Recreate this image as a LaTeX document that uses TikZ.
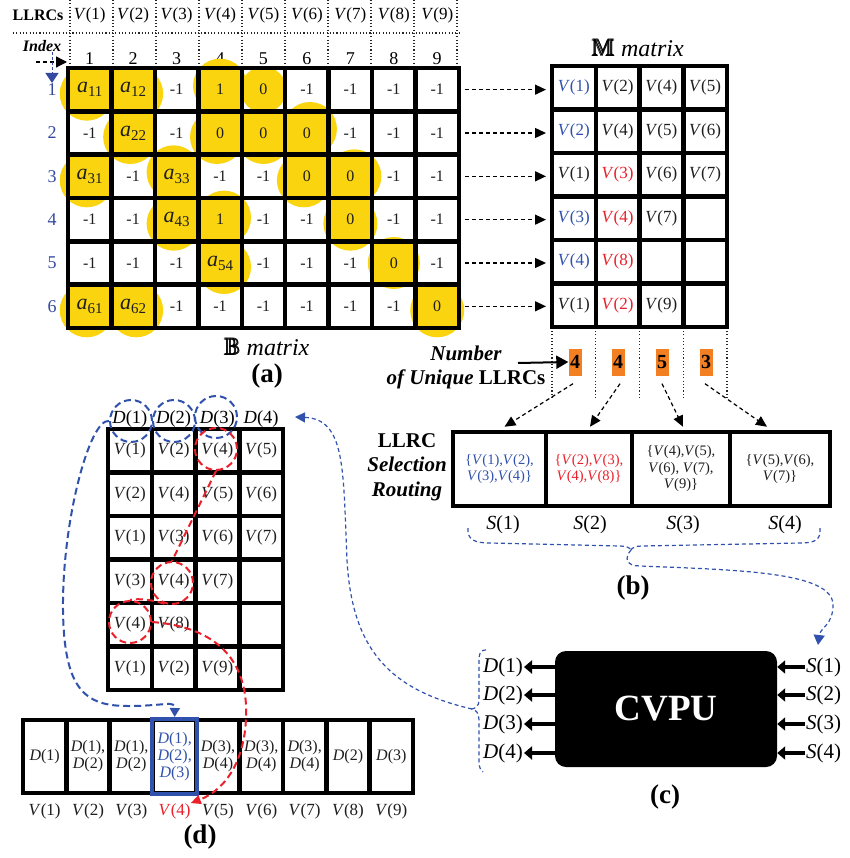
\documentclass[tikz,border=0pt]{standalone}
\usepackage{amsmath}
\usepackage{amssymb}
\usepackage{fontspec}
\setmainfont{Liberation Serif}
\usetikzlibrary{arrows.meta,calc}

\definecolor{cellyellow}{RGB}{250,212,15}
\definecolor{badgeorange}{RGB}{242,128,34}
\definecolor{idxblue}{RGB}{52,74,160}
\definecolor{routeblue}{RGB}{48,82,172}
\definecolor{hitred}{RGB}{234,32,42}
\definecolor{inkblack}{RGB}{30,30,30}

\newcommand{\fsz}[2]{\fontsize{#1}{#2}\selectfont}
\newcommand{\Vv}[1]{\textit{V}(#1)}
\newcommand{\Dv}[1]{\textit{D}(#1)}
\newcommand{\Sv}[1]{\textit{S}(#1)}
\newcommand{\aent}[1]{{\fsz{22}{22}\textit{a}}\raisebox{-4pt}{\fsz{15}{15}#1}}

\tikzset{
  grid line/.style={line width=4.5pt, line cap=rect},
  hdr dots/.style={line width=1.1pt, dash pattern=on 1.1pt off 2.2pt, black!85},
  row arrow/.style={line width=1.3pt, dash pattern=on 4pt off 3pt, -{Triangle[length=11pt,width=10pt]}},
  thin route/.style={routeblue, line width=1.2pt, dash pattern=on 4pt off 3pt},
  thick route/.style={routeblue, line width=2pt, dash pattern=on 7pt off 4pt},
  blue ring/.style={draw=routeblue, line width=2pt, dash pattern=on 7pt off 4pt, circle, minimum size=42pt, inner sep=0pt},
  red ring/.style={draw=hitred, line width=2pt, dash pattern=on 7pt off 4pt, circle, minimum size=42pt, inner sep=0pt},
  red route/.style={hitred, line width=2pt, dash pattern=on 7pt off 4pt},
  btxt/.style={font=\fsz{16}{18}, inner sep=0pt, text=inkblack},
  vtxt/.style={font=\fsz{17}{19}, inner sep=0pt},
  io arrow/.style={line width=4pt, -{Triangle[length=8pt,width=13pt]}},
  badge/.style={fill=badgeorange, minimum width=13pt, minimum height=27pt, inner sep=0pt, font=\fsz{20}{22}\bfseries},
  cap label/.style={font=\fsz{27}{30}\bfseries},
  sbox/.style={draw, line width=4.5pt, minimum height=74pt, inner sep=0pt, align=center, font=\fsz{14.5}{16.5}},
  ecell/.style={minimum width=43pt, minimum height=73pt, inner sep=0pt, align=center, font=\fsz{16}{17}},
}

\begin{document}
\begin{tikzpicture}[x=1pt,y=-1pt]
\path[use as bounding box, fill=white] (0,0) rectangle (849,858);

% ---------------- header: LLRC names and column indices ----------------
\node[font=\fsz{16}{18}\bfseries] (llrcs) at (38,15) {LLRCs};
\foreach \c in {1,...,9}
  \node[vtxt] (hv-\c) at ({68+(\c-0.5)*43.44},15) {\Vv{\c}};
\foreach \k in {0,...,9}
  \draw[hdr dots] ({70+\k*43},0) -- ({70+\k*43},64);
\draw[hdr dots] (13,33) -- (459,33);
\node[font=\fsz{16}{18}\bfseries\itshape] (idx) at (42,46) {Index};
\foreach \c in {1,...,9}
  \node[font=\fsz{18}{20}] (cn-\c) at ({68+(\c-0.5)*43.44},59) {\c};
\coordinate (idx-a) at (36,62);
\coordinate (idx-b) at (67,62);
\draw[line width=1.3pt, dash pattern=on 4pt off 3pt, -{Triangle[length=11pt,width=11pt]}] (idx-a) -- (idx-b);
\coordinate (idx-c) at (52,52);
\coordinate (idx-d) at (52,83);
\draw[idxblue, line width=1pt, dash pattern=on 3pt off 2pt, -{Triangle[length=10pt,width=13pt]}] (idx-c) -- (idx-d);
\foreach \r in {1,...,6}
  \node[font=\fsz{18}{20}, text=idxblue] (rn-\r) at (52,{68+(\r-0.5)*43.33}) {\r};

% ---------------- B matrix ----------------
\foreach \r/\c/\dx/\dy/\rad/\sq in {
  1/1/-3/4/27/1, 1/2/3/4/27/1, 1/4/0/-4/27/1, 1/5/0/0/23/0,
  2/2/-3/4/27/1, 2/4/-3/4/27/1, 2/5/0/4/27/1, 2/6/3/-4/27/1,
  3/1/-3/4/27/1, 3/3/-3/-4/27/1, 3/6/-3/4/27/1, 3/7/4/0/27/1,
  4/3/-3/4/27/1, 4/4/4/-2/27/1, 4/7/0/4/27/1,
  5/4/4/4/27/1, 5/8/0/0/26/1,
  6/1/-3/4/27/1, 6/2/3/4/27/1, 6/9/0/4/27/1} {
  \pgfmathsetmacro\cx{68+(\c-0.5)*43.44}
  \pgfmathsetmacro\cy{68+(\r-0.5)*43.33}
  \fill[cellyellow] ({\cx+\dx},{\cy+\dy}) circle[radius=\rad pt];
  \ifnum\sq=1
    \fill[cellyellow] ({\cx-21.7},{\cy-21.7}) rectangle ({\cx+21.7},{\cy+21.7});
  \fi
}
\foreach \r/\row in {
  1/{\aent{11},\aent{12},-1,1,0,-1,-1,-1,-1},
  2/{-1,\aent{22},-1,0,0,0,-1,-1,-1},
  3/{\aent{31},-1,\aent{33},-1,-1,0,0,-1,-1},
  4/{-1,-1,\aent{43},1,-1,-1,0,-1,-1},
  5/{-1,-1,-1,\aent{54},-1,-1,-1,0,-1},
  6/{\aent{61},\aent{62},-1,-1,-1,-1,-1,-1,0}}
  \foreach \t [count=\c] in \row
    \node[btxt] (b-\r-\c) at ({68+(\c-0.5)*43.44},{68+(\r-0.5)*43.33}) {\t};
\foreach \k in {0,...,9}
  \draw[grid line] ({68+\k*43.44},68) -- ({68+\k*43.44},328);
\foreach \k in {0,...,6}
  \draw[grid line] (68,{68+\k*43.33}) -- (459,{68+\k*43.33});
\node[font=\fsz{24}{26}] (btitle) at (267,347) {$\pmb{\mathbb{B}}$ \textit{matrix}};
\node[cap label] (cap-a) at (267,376) {(a)};

% rows of B feed the rows of M
\foreach \r in {1,...,6} {
  \coordinate (bo-\r) at (465,{68+(\r-0.5)*43.33});
  \coordinate (mi-\r) at (546,{68+(\r-0.5)*43.33});
  \draw[row arrow] (bo-\r) -- (mi-\r);
}

% ---------------- M matrix ----------------
\node[font=\fsz{24}{26}] (mtitle) at (638,48) {$\pmb{\mathbb{M}}$ \textit{matrix}};
\foreach \r/\row in {
  1/{1/routeblue,2/inkblack,4/inkblack,5/inkblack},
  2/{2/routeblue,4/inkblack,5/inkblack,6/inkblack},
  3/{1/inkblack,3/hitred,6/inkblack,7/inkblack},
  4/{3/routeblue,4/hitred,7/inkblack},
  5/{4/routeblue,8/hitred},
  6/{1/inkblack,2/hitred,9/inkblack}}
  \foreach \v/\col [count=\c] in \row
    \node[vtxt, text=\col] (m-\r-\c) at ({552+(\c-0.5)*43.75},{66+(\r-0.5)*43.5}) {\Vv{\v}};
\foreach \k in {0,...,4}
  \draw[grid line] ({552+\k*43.75},66) -- ({552+\k*43.75},327);
\foreach \k in {0,...,6}
  \draw[grid line] (552,{66+\k*43.5}) -- (727,{66+\k*43.5});
\foreach \k in {0,...,4}
  \draw[hdr dots] ({552+\k*43.75},331) -- ({552+\k*43.75},400);

% ---------------- number of unique LLRCs ----------------
\foreach \k/\xx/\n in {1/575/4, 2/618/4, 3/662/5, 4/706/3}
  \node[badge] (bg-\k) at (\xx,362) {\n};
\node[font=\fsz{21}{24}\bfseries, align=center] (nul) at (466,367) {\textit{Number}\\\textit{of Unique} LLRCs};
\coordinate (nuarr) at (518,363);
\draw[line width=2pt, -{Triangle[length=12pt,width=13pt]}] (nuarr) -- (bg-1.west);

% ---------------- LLRC selection routing ----------------
\node[sbox, minimum width=93pt, text=routeblue] (s-1) at (499.5,469) {\{\Vv{1},\Vv{2},\\ \Vv{3},\Vv{4}\}};
\node[sbox, minimum width=86pt, text=hitred] (s-2) at (589,469) {\{\Vv{2},\Vv{3},\\ \Vv{4},\Vv{8}\}};
\node[sbox, minimum width=98pt, text=inkblack] (s-3) at (681,469) {\{\Vv{4},\Vv{5},\\ \Vv{6}, \Vv{7},\\ \Vv{9}\}};
\node[sbox, minimum width=100pt, text=inkblack] (s-4) at (780,469) {\{\Vv{5},\Vv{6},\\ \Vv{7}\}};
\node[font=\fsz{21}{24.5}\bfseries, align=center] (lsr) at (407,467) {LLRC\\\textit{Selection}\\\textit{Routing}};
\draw[row arrow, line width=1.2pt] ($(bg-1.south)+(-2,8)$) -- ($(s-1.north)+(5,-3)$);
\draw[row arrow, line width=1.2pt] ($(bg-2.south)+(2,8)$) -- ($(s-2.north)+(1,-3)$);
\draw[row arrow, line width=1.2pt] ($(bg-3.south)+(0,8)$) -- ($(s-3.north)+(2,-3)$);
\draw[row arrow, line width=1.2pt] ($(bg-4.south)+(-1,8)$) -- ($(s-4.north)+(-13,-3)$);
\foreach \k/\xx in {1/503, 2/590, 3/683, 4/785}
  \node[font=\fsz{20}{22}] (sl-\k) at (\xx,525) {\Sv{\k}};
\node[cap label] (cap-b) at (633,588) {(b)};

% brace gathering S(1)..S(4) and its route into the CVPU inputs
\coordinate (sbr) at (631,550);
\draw[thin route] (468,528) .. controls (467,540) and (475,543) .. (490,543) -- (620,546) .. controls (627,546) and (630,548) .. (sbr);
\draw[thin route] (820,528) .. controls (821,540) and (815,543) .. (800,543) -- (642,546) .. controls (635,546) and (632,548) .. (sbr);
\coordinate (sarr) at (818,645);
\draw[thin route, -{Triangle[length=10pt,width=11pt]}] (sbr) .. controls (624,558) and (626,566) .. (640,566) .. controls (740,570) and (833,572) .. (833,605) .. controls (833,625) and (820,628) .. (sarr);

% ---------------- CVPU ----------------
\node[fill=black, rounded corners=11pt, minimum width=222pt, minimum height=116pt, text=white, font=\fsz{37}{40}\bfseries] (cvpu) at (666,709) {CVPU};
\foreach \k/\yy in {1/667, 2/695, 3/724, 4/753} {
  \node[font=\fsz{21}{23}, anchor=east, inner sep=0pt] (dout-\k) at (523,\yy) {\Dv{\k}};
  \node[font=\fsz{21}{23}, anchor=west, inner sep=0pt] (sin-\k) at (806,\yy) {\Sv{\k}};
  \draw[io arrow] (cvpu.west |- dout-\k) -- ([xshift=1pt]dout-\k.east);
  \draw[io arrow] ([xshift=-1pt]sin-\k.west) -- (cvpu.east |- sin-\k);
}
\node[cap label] (cap-c) at (665,797) {(c)};

% brace over D(1)..D(4) and its route back to the D header of (d)
\coordinate (dbr) at (472,709);
\draw[thin route] (486,650) .. controls (479,650) and (479,655) .. (479,665) -- (479,700) .. controls (479,706) and (476,708) .. (dbr) .. controls (476,710) and (479,713) .. (479,720) -- (479,762) .. controls (479,768) and (481,770) .. (483,772);
\coordinate (dtip) at (295,417);
\draw[thin route, -{Triangle[length=10pt,width=10pt]}] (dbr) .. controls (390,690) and (352,650) .. (347,560) .. controls (343,470) and (346,419) .. (dtip);

% ---------------- (d): decision table ----------------
\foreach \k in {1,...,4}
  \node[font=\fsz{18.5}{20}, inner sep=0pt] (dt-\k) at ({108+(\k-0.5)*43.75},419) {\Dv{\k}};
\foreach \r/\row in {1/{1,2,4,5}, 2/{2,4,5,6}, 3/{1,3,6,7}, 4/{3,4,7}, 5/{4,8}, 6/{1,2,9}}
  \foreach \v [count=\c] in \row
    \node[vtxt, text=inkblack] (l-\r-\c) at ({108+(\c-0.5)*43.75},{429+(\r-0.5)*43.5}) {\Vv{\v}};
\foreach \k in {0,...,4}
  \draw[grid line] ({108+\k*43.75},429) -- ({108+\k*43.75},690);
\foreach \k in {0,...,6}
  \draw[grid line] (108,{429+\k*43.5}) -- (283,{429+\k*43.5});

\node[blue ring] (bc-1) at (131,421) {};
\node[blue ring] (bc-2) at (174,421) {};
\node[blue ring] (bc-3) at (216,417) {};
\node[red ring] (rc-1) at (216,449) {};
\node[red ring] (rc-2) at (172,583) {};
\node[red ring] (rc-3) at (130,622) {};

% bottom row: D sets per LLRC
\foreach \k in {0,...,9}
  \draw[grid line] ({23+\k*43.33},720) -- ({23+\k*43.33},793);
\draw[grid line] (23,720) -- (413,720);
\draw[grid line] (23,793) -- (413,793);
\foreach \k/\txt in {1/{\Dv{1}}, 2/{\Dv{1},\\\Dv{2}}, 3/{\Dv{1},\\\Dv{2}}, 5/{\Dv{3},\\\Dv{4}}, 6/{\Dv{3},\\\Dv{4}}, 7/{\Dv{3},\\\Dv{4}}, 8/{\Dv{2}}, 9/{\Dv{3}}}
  \node[ecell, text=inkblack] (e-\k) at ({23+(\k-0.5)*43.33},756.5) {\txt};
\node[ecell, draw=routeblue, line width=4pt, minimum width=45pt, minimum height=75pt, text=routeblue] (e-4) at ({23+3.5*43.33},756.5) {\Dv{1},\\\Dv{2},\\\Dv{3}};
\foreach \k in {1,2,3,5,6,7,8,9}
  \node[vtxt, text=inkblack] (vl-\k) at ({23+(\k-0.5)*43.33},811) {\Vv{\k}};
\node[vtxt, text=hitred] (vl-4) at ({23+3.5*43.33},811) {\Vv{4}};
\node[cap label] (cap-d) at (200,837) {(d)};

% red search path through the rows holding V(4)
\draw[red route] (rc-1.south) -- (rc-2.north);
\draw[red route] (rc-2.250) .. controls (152,600) and (140,598) .. (rc-3.north);
\draw[red route, -{Triangle[length=10pt,width=9pt]}] (rc-3.east) .. controls (205,626) and (243,650) .. (246,705) .. controls (248,760) and (225,790) .. (vl-4.north east);

% blue route from the D(1) header down to the combined entry
\draw[thick route, -{Triangle[length=9pt,width=10pt]}] (bc-1.west) .. controls (90,418) and (62,520) .. (63,610) .. controls (64,690) and (85,706) .. (128,706) .. controls (165,706) and (175,700) .. (e-4.north);

\end{tikzpicture}
\end{document}
